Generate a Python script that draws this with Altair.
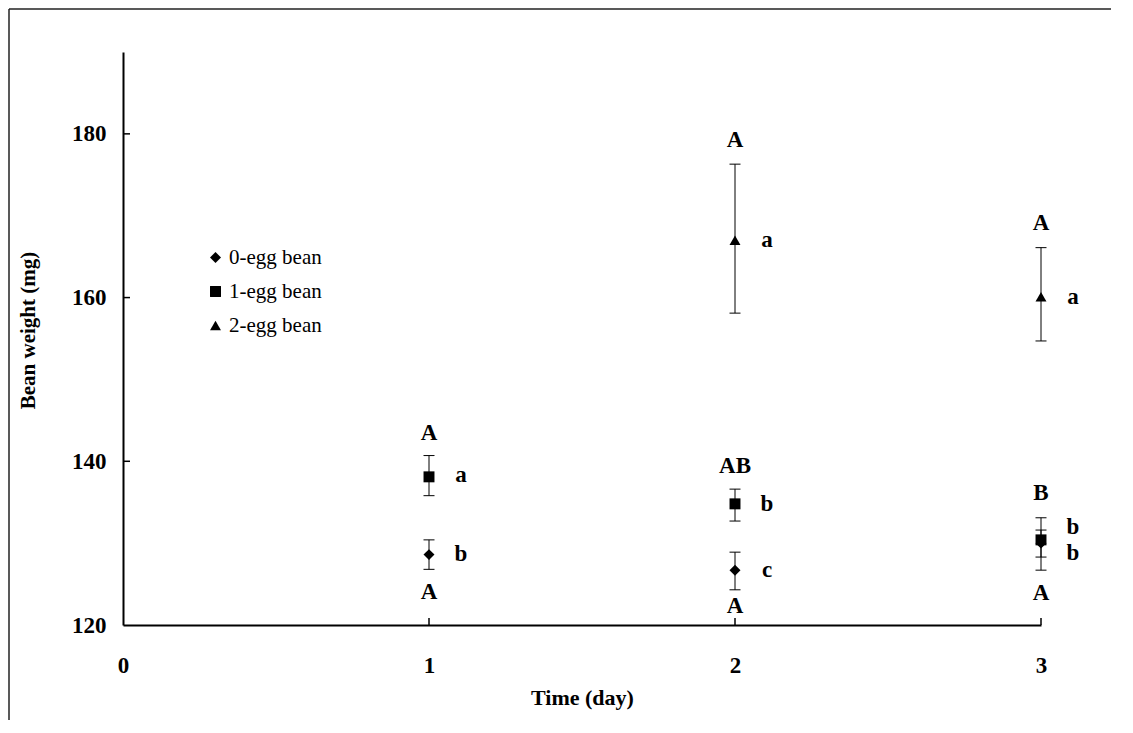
import altair as alt
import pandas as pd

# ---- data ----
days = [1, 1, 2, 2, 2, 3, 3, 3]
groups = ["0-egg bean", "1-egg bean", "0-egg bean", "1-egg bean", "2-egg bean",
          "0-egg bean", "1-egg bean", "2-egg bean"]
means = [128.6, 138.1, 126.7, 134.8, 167.0, 130.0, 130.4, 160.1]
lows = [126.8, 135.8, 124.3, 132.7, 158.1, 128.3, 126.7, 154.7]
highs = [130.4, 140.7, 128.9, 136.6, 176.3, 131.6, 133.1, 166.1]

upper_days = [1, 1, 2, 2, 2, 3, 3, 3]
upper_text = ["A", "A", "A", "AB", "A", "A", "B", "A"]
upper_y = [143.45, 124.0, 179.25, 139.4, 122.3, 169.1, 136.1, 123.9]

lower_days = [1, 1, 2, 2, 2, 3, 3, 3]
lower_text = ["a", "b", "a", "b", "c", "a", "b", "b"]
lower_y = [138.3, 128.7, 167.0, 134.8, 126.7, 160.1, 132.0, 128.8]

group_order = ["0-egg bean", "1-egg bean", "2-egg bean"]
shapes = ["diamond", "square", "triangle-up"]
shape_sizes = [120, 120, 170]

x_tick_vals = [0, 1, 2, 3]
y_tick_vals = [120, 140, 160, 180]
x_inner_ticks = [1, 2, 3]
y_inner_ticks = [140, 160, 180]

W, H = 918, 573
FONT = "Liberation Serif"

df = pd.DataFrame(dict(day=days, group=groups, mean=means, lo=lows, hi=highs))
up = pd.DataFrame(dict(day=upper_days, y=upper_y, label=upper_text))
lo = pd.DataFrame(dict(day=lower_days, y=lower_y, label=lower_text))

xs = alt.Scale(domain=[0, 3], nice=False, zero=False)
ys = alt.Scale(domain=[120, 190], nice=False, zero=False)

x_axis = alt.Axis(values=x_tick_vals, format="d", title="Time (day)", ticks=False,
                  labelPadding=29, labelFlush=False, grid=False, titleFontSize=22,
                  titleX=W / 2, titleY=72, titleBaseline="middle", titleAlign="center")
y_axis = alt.Axis(values=y_tick_vals, format="d", title="Bean weight (mg)", ticks=False,
                  labelPadding=17, labelFlush=False, grid=False, titleFontSize=21,
                  titleX=-95, titleY=278, titleAngle=270, titleBaseline="middle",
                  titleAlign="center")

legend = alt.Legend(title=None, orient="none", legendX=82, legendY=195,
                    labelFont=FONT, labelFontSize=21, labelColor="black",
                    symbolFillColor="black", symbolStrokeColor="black",
                    rowPadding=12, labelOffset=3, padding=0)


def X(field):
    return alt.X(field, scale=xs, axis=x_axis)


def Y(field):
    return alt.Y(field, scale=ys, axis=y_axis)


points = alt.Chart(df).mark_point(filled=True, color="black", opacity=1).encode(
    x=X("day:Q"),
    y=Y("mean:Q"),
    shape=alt.Shape("group:N", scale=alt.Scale(domain=group_order, range=shapes),
                    legend=legend),
    size=alt.Size("group:N", scale=alt.Scale(domain=group_order, range=shape_sizes),
                  legend=legend),
)

err = alt.Chart(df).mark_rule(color="black", strokeWidth=1).encode(
    x=X("day:Q"), y=Y("lo:Q"), y2="hi:Q",
)
cap_lo = alt.Chart(df).mark_tick(orient="horizontal", color="black", size=11,
                                 thickness=1, opacity=1).encode(x=X("day:Q"), y=Y("lo:Q"))
cap_hi = alt.Chart(df).mark_tick(orient="horizontal", color="black", size=11,
                                 thickness=1, opacity=1).encode(x=X("day:Q"), y=Y("hi:Q"))

txt_up = alt.Chart(up).mark_text(font=FONT, fontSize=23, fontWeight="bold",
                                 color="black", baseline="middle", align="center").encode(
    x=X("day:Q"), y=Y("y:Q"), text="label:N",
)
txt_lo = alt.Chart(lo).mark_text(font=FONT, fontSize=23, fontWeight="bold", dx=32,
                                 color="black", baseline="middle", align="center").encode(
    x=X("day:Q"), y=Y("y:Q"), text="label:N",
)

yt = pd.DataFrame(dict(v=y_inner_ticks))
xt = pd.DataFrame(dict(v=x_inner_ticks))
ytick = alt.Chart(yt).mark_rule(color="black", strokeWidth=1.5).encode(
    y=Y("v:Q"), x=alt.value(0), x2=alt.value(7))
xtick = alt.Chart(xt).mark_rule(color="black", strokeWidth=1.5).encode(
    x=X("v:Q"), y=alt.value(H - 7), y2=alt.value(H))

dummy = pd.DataFrame(dict(a=[0]))
frame_top = alt.Chart(dummy).mark_rule(color="#222", strokeWidth=1.5).encode(
    x=alt.value(-114), x2=alt.value(W + 70), y=alt.value(-43))
frame_left = alt.Chart(dummy).mark_rule(color="#222", strokeWidth=1.5).encode(
    x=alt.value(-114), y=alt.value(-43), y2=alt.value(H + 95))

chart = alt.layer(points, err, cap_lo, cap_hi, txt_up, txt_lo, ytick, xtick,
                  frame_top, frame_left).properties(
    width=W, height=H,
    autosize=alt.AutoSizeParams(type="none"),
    padding={"left": 115, "top": 44, "right": 70, "bottom": 95},
    background="white",
).configure_view(strokeWidth=0).configure_axis(
    domainColor="black", domainWidth=2,
    labelFont=FONT, labelFontSize=23, labelFontWeight="bold", labelColor="black",
    titleFont=FONT, titleFontWeight="bold", titleColor="black",
)

chart.save("out.html", embed_options={"renderer": "svg", "actions": False})
